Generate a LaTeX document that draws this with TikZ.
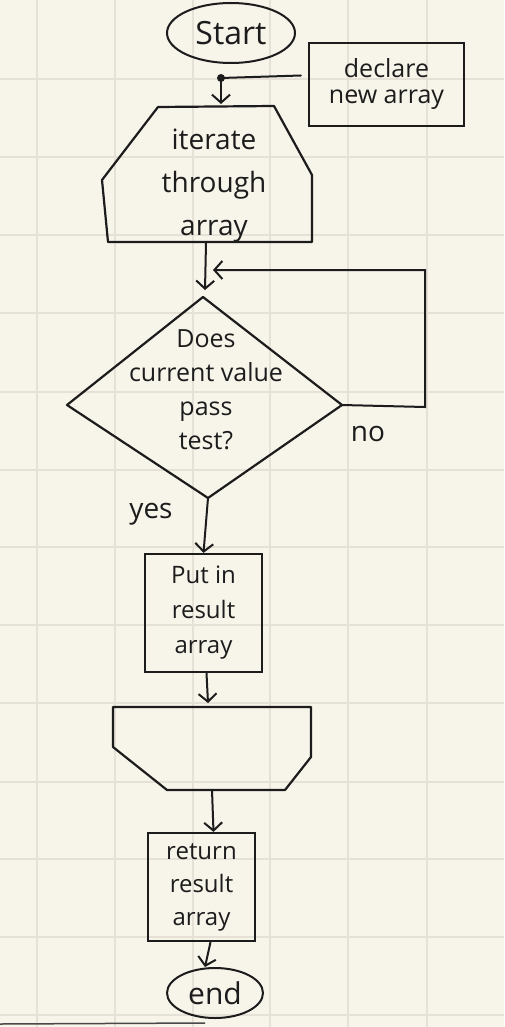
\documentclass[tikz,border=0pt]{standalone}
\usepackage{fontspec}
\setmainfont{Open Sans}
\usetikzlibrary{arrows.meta,shapes.geometric}
\definecolor{paper}{HTML}{F7F4EA}
\definecolor{gridc}{HTML}{E6E1D6}
\definecolor{ink}{HTML}{1C1C1C}
\tikzset{
  shapeline/.style={draw=ink, line width=2.2pt, line join=round, line cap=round},
  conn/.style={draw=ink, line width=2pt, line cap=round, -{Straight Barb[length=8pt,width=18pt,line width=2pt]}},
  plain/.style={draw=ink, line width=2pt, line cap=round, line join=round},
  txt/.style={text=ink, align=center, inner sep=0pt, font=\fontsize{26}{34}\selectfont},
  lbl/.style={text=ink, inner sep=0pt, font=\fontsize{28}{30}\selectfont},
}
\begin{document}
\begin{tikzpicture}[x=1pt,y=-1pt]
\fill[paper] (0,0) rectangle (504,1027);
\useasboundingbox (0,0) rectangle (504,1027);
% grid
\foreach \x in {37,115,193,270,348,427}
  \draw[gridc, line width=2.5pt] (\x,0) -- (\x,1027);
\foreach \y in {79,157,235,313,392,470,547,625,703,782,859,937,1015}
  \draw[gridc, line width=2.5pt] (0,\y) -- (504,\y);

% Start
\node[ellipse, draw=ink, line width=2pt, minimum width=128pt, minimum height=60pt,
      txt, font=\fontsize{32}{34}\selectfont] (start) at (231,33) {Start};

% declare box
\node[draw=ink, line width=2.2pt, minimum width=155pt, minimum height=83pt,
      txt, font=\fontsize{25}{26}\selectfont] (declare) at (386.5,84.5) {declare\\new array};
\coordinate (dot) at (221,78);
\draw[plain] ([shift={(-7,-9)}]declare.west) -- (dot);
\fill[ink] (dot) circle (4pt);

% iterate hexagon
\coordinate (h1) at (158,107);
\coordinate (h2) at (274,106);
\coordinate (h3) at (312,175);
\coordinate (h4) at (312,242);
\coordinate (h5) at (108,242);
\coordinate (h6) at (102,180);
\draw[shapeline] (h1) -- (h2) -- (h3) -- (h4) -- (h5) -- (h6) -- cycle;
\node[txt, font=\fontsize{28}{43}\selectfont] (iter) at (214,186) {iterate\\through\\array};
\coordinate (itop) at (221,104);
\coordinate (ibot) at (206,243);
\draw[conn] (dot) -- (itop);

% decision diamond
\coordinate (dtop) at (203,297);
\coordinate (dleft) at (67,405);
\coordinate (dright) at (342,405);
\coordinate (dbot) at (208,498);
\draw[shapeline] (dtop) -- (dright) -- (dbot) -- (dleft) -- cycle;
\node[txt, font=\fontsize{25}{34}\selectfont] (dec) at (206,390) {Does\\current value\\pass\\test?};
\coordinate (dtin) at (205,290);
\draw[conn] (ibot) -- (dtin);

% loop back (no)
\coordinate (loopA) at (425,407);
\coordinate (loopB) at (425,270);
\coordinate (loopEnd) at (213,270);
\draw[conn] (dright) -- (loopA) -- (loopB) -- (loopEnd);
\node[lbl] (no) at (368,434) {no};
\node[lbl] (yes) at (151,514) {yes};

% put in result array
\node[draw=ink, line width=2.2pt, minimum width=117pt, minimum height=118pt,
      txt, font=\fontsize{24}{35}\selectfont] (put) at (203.5,613) {Put in\\result\\array};
\draw[conn] (dbot) -- (put.north);

% loop-end shape
\coordinate (e1) at (113,707);
\coordinate (e2) at (311,707);
\coordinate (e3) at (311,757);
\coordinate (e4) at (285,790);
\coordinate (e5) at (167,790);
\coordinate (e6) at (113,747);
\draw[shapeline] (e1) -- (e2) -- (e3) -- (e4) -- (e5) -- (e6) -- cycle;
\coordinate (etop) at (208,703);
\coordinate (ebot) at (212,790);
\draw[conn] ([xshift=3pt]put.south) -- (etop);

% return result array
\node[draw=ink, line width=2.2pt, minimum width=107pt, minimum height=108pt,
      txt, font=\fontsize{24}{33}\selectfont] (ret) at (201.5,887) {return\\result\\array};
\draw[conn] (ebot) -- ([xshift=12pt]ret.north);

% end
\node[ellipse, draw=ink, line width=2pt, minimum width=96pt, minimum height=50pt,
      txt, font=\fontsize{30}{32}\selectfont] (end) at (215,993) {end};
\draw[conn] ([xshift=9pt]ret.south) -- ([xshift=-10pt]end.north);

% bottom edge line
\coordinate (bl1) at (0,1024);
\coordinate (bl2) at (205,1023);
\draw[ink!80, line width=1.5pt] (bl1) -- (bl2);
\end{tikzpicture}
\end{document}
